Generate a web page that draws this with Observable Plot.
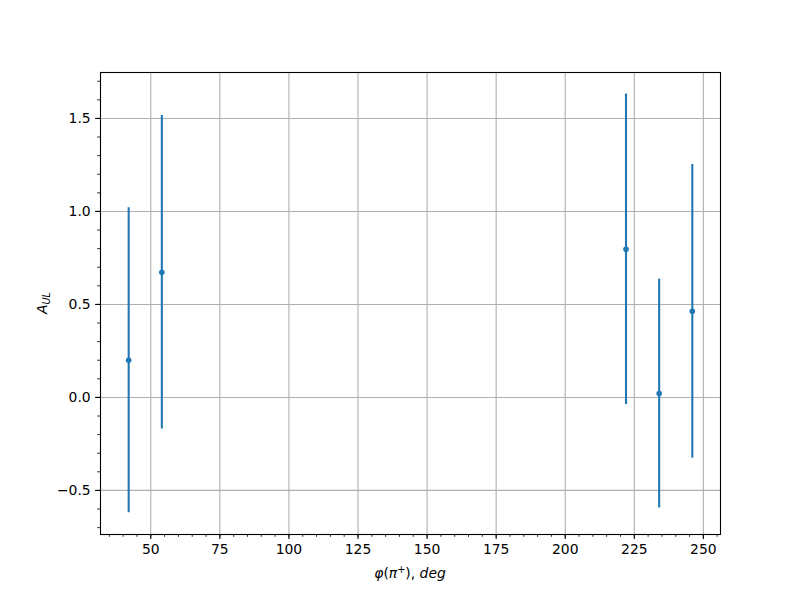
<!DOCTYPE html>
<html>
<head>
<meta charset="utf-8">
<script src="https://cdn.jsdelivr.net/npm/d3@7"></script>
<script src="https://cdn.jsdelivr.net/npm/@observablehq/plot@0.6"></script>
<style>
  html, body { margin: 0; padding: 0; background: white; }
</style>
</head>
<body>
<script>
const phi = [42, 54, 222, 234, 246];
const aul = [0.2, 0.673, 0.797, 0.021, 0.463];
const err = [0.82, 0.843, 0.835, 0.615, 0.79];
const xTicks = [50, 75, 100, 125, 150, 175, 200, 225, 250];
const xMinor = d3.range(35, 256, 5);
const yTicks = [-0.5, 0.0, 0.5, 1.0, 1.5];
const yMinor = d3.range(-7, 18).map(d => d / 10);

const data = phi.map((x, i) => ({x, y: aul[i], lo: aul[i] - err[i], hi: aul[i] + err[i]}));
const blue = "#1f77b4";
const grid = "#b0b0b0";
const fmtY = d => d.toFixed(1).replace("-", "\u2212");

const chart = Plot.plot({
  width: 800,
  height: 600,
  marginLeft: 100,
  marginRight: 80,
  marginTop: 72,
  marginBottom: 66,
  style: {fontFamily: "DejaVu Sans", fontSize: "13.9px", color: "black", background: "white"},
  x: {domain: [31.8, 256.2], label: null},
  y: {domain: [-0.737, 1.747], label: null},
  marks: [
    Plot.gridX(xTicks, {stroke: grid, strokeOpacity: 1, strokeWidth: 1.1}),
    Plot.gridY(yTicks, {stroke: grid, strokeOpacity: 1, strokeWidth: 1.1}),
    Plot.ruleX(data, {x: "x", y1: "lo", y2: "hi", stroke: blue, strokeWidth: 2.08}),
    Plot.dot(data, {x: "x", y: "y", r: 2.8, fill: blue, stroke: "none"}),
    Plot.frame({stroke: "black", strokeWidth: 1.1}),
    Plot.axisX(xTicks, {tickSize: 4.9, tickPadding: 4.9, tickFormat: d => String(d), strokeWidth: 1.1, label: null, fontSize: 13.9}),
    Plot.axisX(xMinor, {tickSize: 2.8, tickFormat: () => "", strokeWidth: 0.83, label: null}),
    Plot.axisY(yTicks, {tickSize: 4.9, tickPadding: 4.9, tickFormat: fmtY, strokeWidth: 1.1, label: null, fontSize: 13.9}),
    Plot.axisY(yMinor, {tickSize: 2.8, tickFormat: () => "", strokeWidth: 0.83, label: null})
  ]
});
document.body.append(chart);

const svg = d3.select(chart);
const xl = svg.append("text")
  .attr("x", 410).attr("y", 578)
  .attr("text-anchor", "middle")
  .attr("font-family", "DejaVu Sans")
  .attr("font-size", "13.9px")
  .attr("fill", "black");
xl.append("tspan").attr("font-style", "italic").text("\u03c6");
xl.append("tspan").text("(");
xl.append("tspan").attr("font-style", "italic").text("\u03c0");
xl.append("tspan").attr("font-size", "9.7px").attr("dy", -5).text("+");
xl.append("tspan").attr("dy", 5).text("), ");
xl.append("tspan").attr("font-style", "italic").text("deg");

const yl = svg.append("text")
  .attr("transform", "translate(47,303) rotate(-90)")
  .attr("text-anchor", "middle")
  .attr("font-family", "DejaVu Sans")
  .attr("font-size", "13.9px")
  .attr("fill", "black");
yl.append("tspan").attr("font-style", "italic").text("A");
yl.append("tspan").attr("font-style", "italic").attr("font-size", "9.7px").attr("dy", 3).text("UL");
</script>
</body>
</html>
